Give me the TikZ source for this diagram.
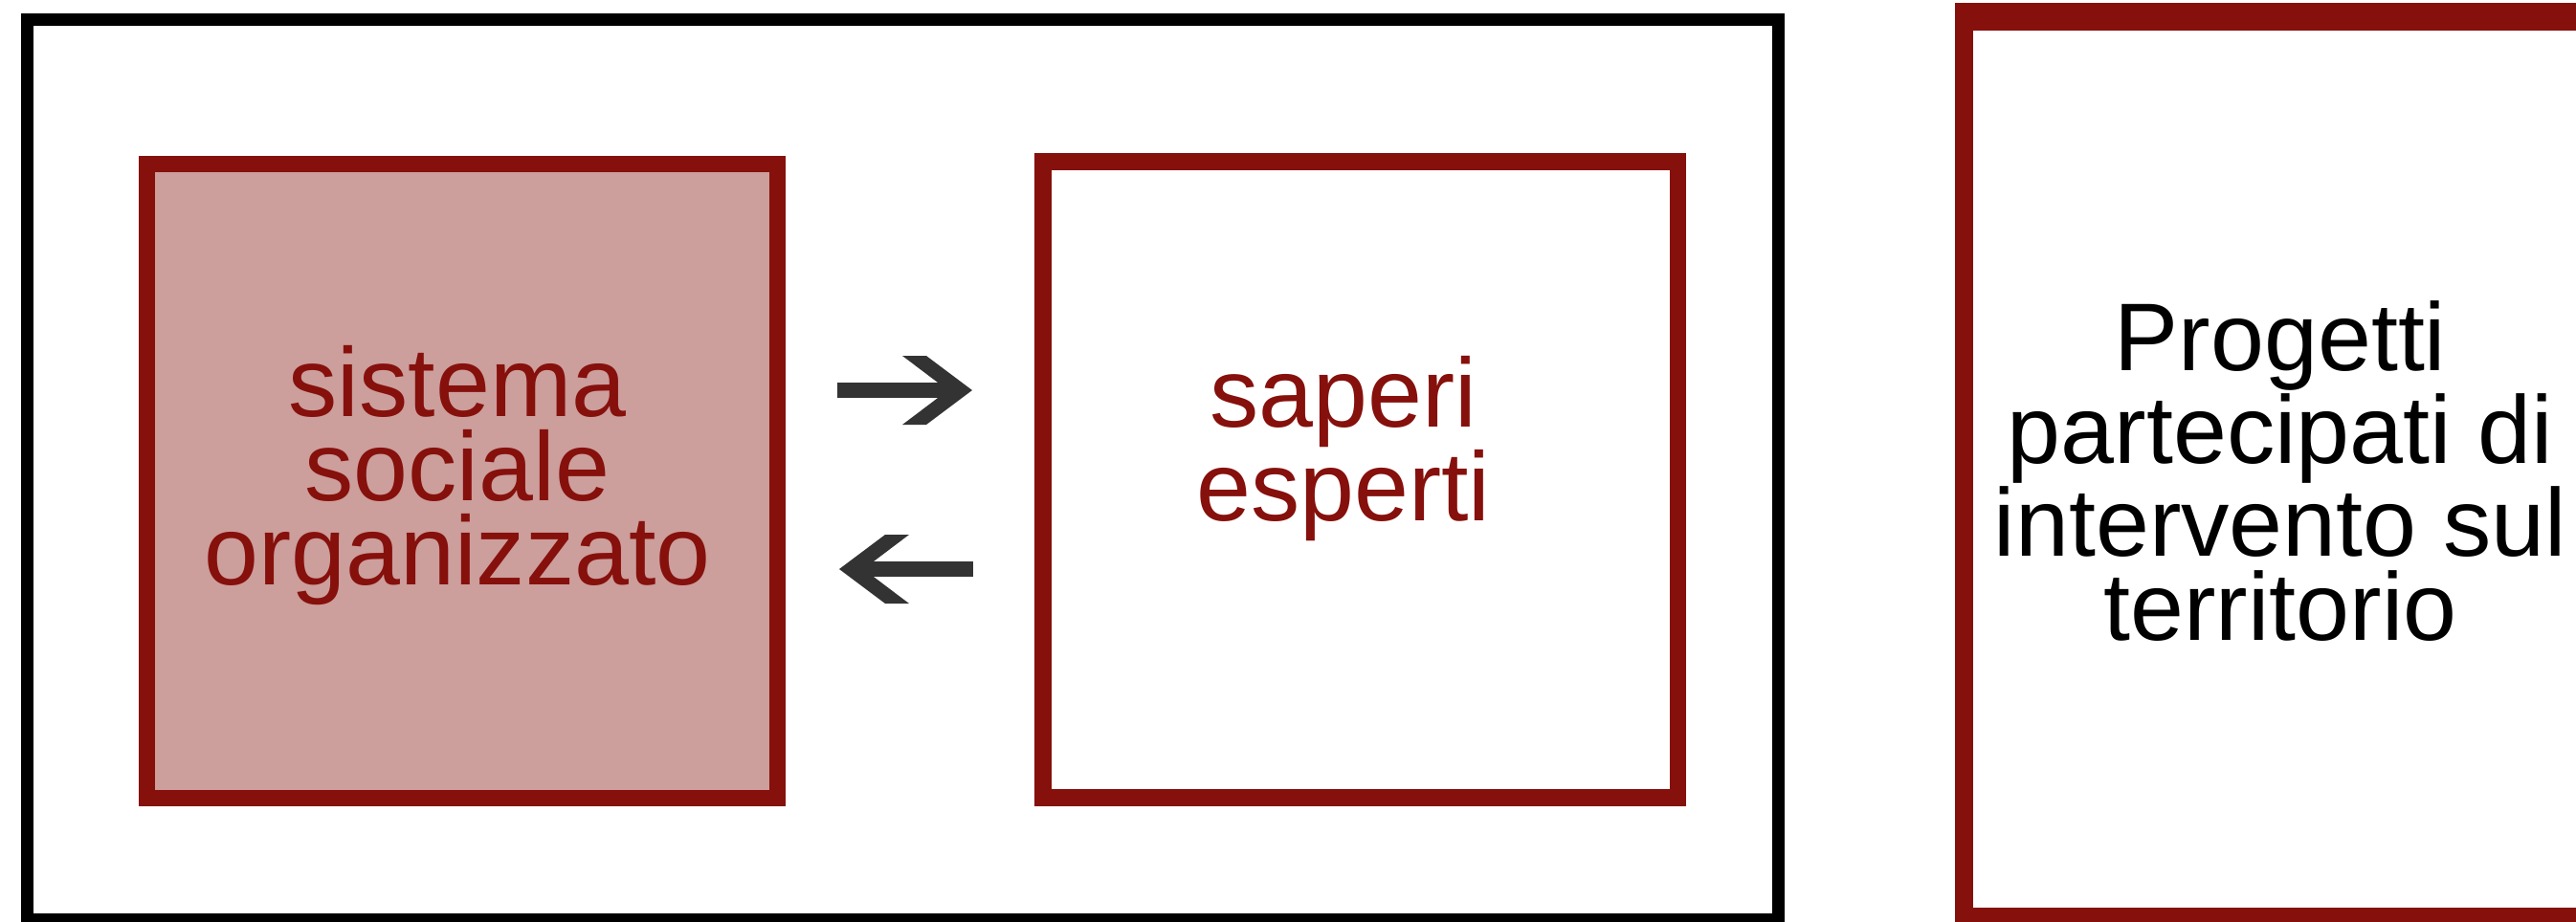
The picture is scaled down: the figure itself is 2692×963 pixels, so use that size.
\documentclass[tikz,border=0pt]{standalone}
\usepackage{fontspec}
\setmainfont{Liberation Sans}
\definecolor{darkred}{RGB}{134,16,12}
\definecolor{pinkfill}{RGB}{204,158,156}
\definecolor{arrowgray}{RGB}{51,51,51}
\tikzset{
  outerbox/.style={draw=black, line width=3.70pt},
  redbox/.style={draw=darkred, line width=4.98pt},
  bigredbox/.style={draw=darkred, line width=5.41pt},
  redtext/.style={text=darkred, align=center, inner sep=0pt, font=\fontsize{29.1pt}{25.1pt}\selectfont},
  blacktext/.style={text=black, align=center, inner sep=0pt, font=\fontsize{28.6pt}{25.04pt}\selectfont},
  arrowshaft/.style={draw=arrowgray, line width=4.3pt, line cap=butt, shorten >=6pt},
  arrowhead/.style={fill=arrowgray}
}
\begin{document}
\begin{tikzpicture}[x=0.01cm, y=-0.01cm]
\useasboundingbox (0,0) rectangle (2692,963);
\clip (0,0) rectangle (2692,963);
\fill[white] (0,0) rectangle (2692,963);
% outer black frame
\draw[outerbox] (28.5,20.5) rectangle (1858,961.5);
% left box
\draw[redbox, fill=pinkfill] (153.5,171.5) rectangle (812.5,834.5);
\node[redtext] (t1) at (478,497) {sistema\\sociale\\organizzato};
% middle box
\draw[redbox] (1090,169) rectangle (1753.5,834);
\node[redtext, font=\fontsize{29.1pt}{24.75pt}\selectfont] (t2) at (1404,469) {saperi\\esperti};
% right box
\draw[bigredbox] (2052.5,17.5) rectangle (2713.5,958.5);
\draw[draw=darkred, line width=8.25pt] (2043,17.5) -- (2720,17.5);
\node[blacktext] (t3) at (2383,492.5) {Progetti\\partecipati di\\intervento sul\\territorio};
% arrow right
\coordinate (r1) at (875,408);
\coordinate (r2) at (1016,408);
\draw[arrowshaft] (r1) -- (r2);
\fill[arrowhead] ([shift={(-73,-36)}]r2) -- ([shift={(-48,-36)}]r2) -- (r2)
  -- ([shift={(-48,36)}]r2) -- ([shift={(-73,36)}]r2) -- ([shift={(-25.3,0)}]r2) -- cycle;
% arrow left
\coordinate (l1) at (1017,595);
\coordinate (l2) at (877,595);
\draw[arrowshaft] (l1) -- (l2);
\fill[arrowhead] ([shift={(73,-36)}]l2) -- ([shift={(48,-36)}]l2) -- (l2)
  -- ([shift={(48,36)}]l2) -- ([shift={(73,36)}]l2) -- ([shift={(25.3,0)}]l2) -- cycle;
\end{tikzpicture}
\end{document}
